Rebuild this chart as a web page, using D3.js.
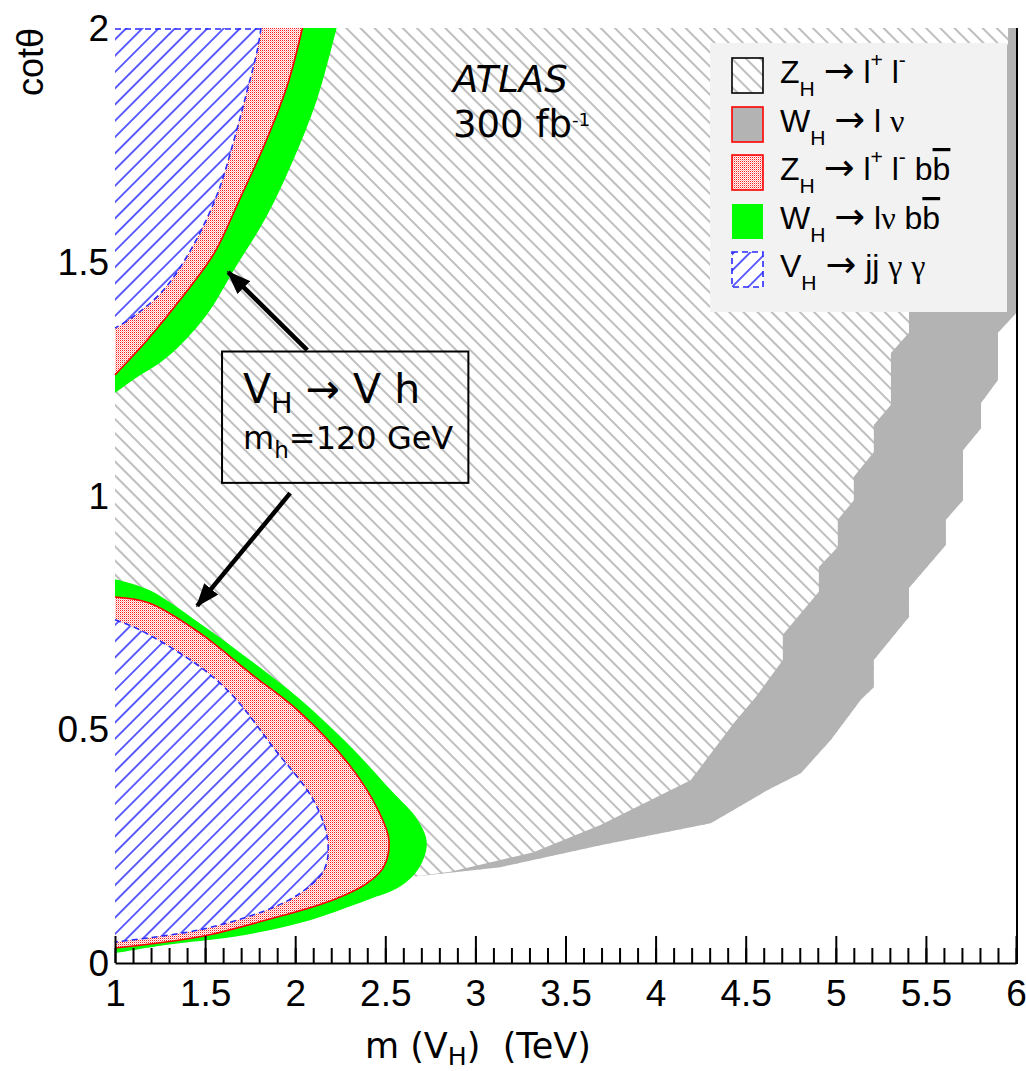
<!DOCTYPE html>
<html>
<head>
<meta charset="utf-8">
<script src="https://cdn.jsdelivr.net/npm/d3@7"></script>
<style>
  body { margin: 0; background: #fff; }
  svg { display: block; }
  text { white-space: pre; }
</style>
</head>
<body>
<div id="chart"></div>
<script>
// axis ticks
const xMajor = [1, 1.5, 2, 2.5, 3, 3.5, 4, 4.5, 5, 5.5, 6];
const xMinor = d3.range(10, 61).map(d => d / 10);
const yTicks = [0, 0.5, 1, 1.5, 2];

// W_H -> l nu  (grey band), edges as [m(TeV), cot theta]
const wlnuUpperEdge = [
  [2.639, 0.184], [2.861, 0.195], [3.322, 0.237], [3.694, 0.295], [4.194, 0.391],
  [4.267, 0.428], [4.433, 0.513], [4.556, 0.569], [4.706, 0.648], [4.706, 0.702],
  [4.906, 0.794], [4.906, 0.847], [5.011, 0.890], [5.011, 0.948], [5.100, 0.990],
  [5.100, 1.040], [5.211, 1.093], [5.211, 1.151], [5.306, 1.194], [5.306, 1.305],
  [5.406, 1.348], [5.406, 1.418], [5.956, 1.968], [5.956, 2.0]
];
const wlnuLowerEdge = [
  [6.0, 2.0], [6.0, 1.390], [5.900, 1.348], [5.900, 1.247], [5.806, 1.198],
  [5.806, 1.144], [5.706, 1.097], [5.706, 0.990], [5.611, 0.948], [5.611, 0.894],
  [5.406, 0.802], [5.406, 0.740], [5.211, 0.648], [5.211, 0.590], [5.139, 0.563],
  [4.972, 0.477], [4.806, 0.406], [4.622, 0.370], [4.306, 0.299], [3.694, 0.252],
  [3.139, 0.205], [2.639, 0.184]
];

// low cot theta lobe
const lowGreen = [
  [1.0, 0.821], [1.19, 0.798], [1.47, 0.727], [1.77, 0.642], [2.03, 0.563],
  [2.31, 0.462], [2.53, 0.370], [2.68, 0.306], [2.73, 0.257], [2.69, 0.205],
  [2.58, 0.163], [2.40, 0.135], [2.03, 0.086], [1.66, 0.056], [1.29, 0.039], [1.0, 0.021]
];
const lowRed = [
  [1.0, 0.783], [1.19, 0.770], [1.47, 0.706], [1.75, 0.620], [2.03, 0.535],
  [2.31, 0.419], [2.46, 0.327], [2.52, 0.263], [2.49, 0.205], [2.40, 0.171],
  [2.21, 0.135], [1.84, 0.092], [1.47, 0.056], [1.0, 0.032]
];
const lowBlue = [
  [1.0, 0.734], [1.14, 0.712], [1.47, 0.634], [1.66, 0.569], [1.88, 0.460],
  [2.10, 0.349], [2.18, 0.263], [2.16, 0.199], [2.03, 0.150], [1.84, 0.113],
  [1.47, 0.071], [1.0, 0.045]
];

// high cot theta lobe
const highGreen = [
  [2.23, 2.0], [2.12, 1.846], [1.99, 1.718], [1.84, 1.596], [1.67, 1.489],
  [1.50, 1.382], [1.29, 1.296], [1.10, 1.247], [1.0, 1.219]
];
const highRed = [
  [2.04, 2.0], [1.96, 1.882], [1.84, 1.760], [1.69, 1.632], [1.55, 1.518],
  [1.36, 1.418], [1.18, 1.333], [1.0, 1.258]
];
const highBlue = [
  [1.81, 2.0], [1.79, 1.953], [1.73, 1.861], [1.66, 1.760], [1.57, 1.647],
  [1.43, 1.532], [1.27, 1.440], [1.10, 1.382], [1.0, 1.358]
];

// annotation: box corners and arrows [from, to] in data coords
const noteBox = [[1.594, 1.308], [2.961, 1.027]];
const noteArrows = [
  [[2.067, 1.311], [1.628, 1.478]],
  [[1.972, 1.005], [1.456, 0.764]]
];

// legend
const legendKeys = ["zll", "wlnu", "zllbb", "wlnubb", "vjjgg"];
const legendLabels = [
  [["Z"], ["H", "sub"], [" "], ["\u2192", "arrow"], [" l"], ["+", "sup"], [" l"], ["-", "sup"]],
  [["W"], ["H", "sub"], [" "], ["\u2192", "arrow"], [" l "], ["\u03bd", "greek"]],
  [["Z"], ["H", "sub"], [" "], ["\u2192", "arrow"], [" l"], ["+", "sup"], [" l"], ["-", "sup"], [" b"], ["b", "bar"]],
  [["W"], ["H", "sub"], [" "], ["\u2192", "arrow"], [" l"], ["\u03bd", "greek"], [" b"], ["b", "bar"]],
  [["V"], ["H", "sub"], [" "], ["\u2192", "arrow"], [" jj "], ["\u03b3", "greek"], [" "], ["\u03b3", "greek"]]
];

const width = 1026, height = 1071;
const x = d3.scaleLinear().domain([1, 6]).range([115, 1016]);
const y = d3.scaleLinear().domain([0, 2]).range([963, 28]);

const svg = d3.select("#chart").append("svg")
  .attr("width", width)
  .attr("height", height);

const defs = svg.append("defs");

function hatch(id, angle, size, color, w) {
  const p = defs.append("pattern")
    .attr("id", id)
    .attr("patternUnits", "userSpaceOnUse")
    .attr("width", size).attr("height", size)
    .attr("patternTransform", `rotate(${angle})`);
  p.append("rect").attr("width", size).attr("height", size).attr("fill", "#fff");
  p.append("line")
    .attr("x1", size / 2).attr("x2", size / 2)
    .attr("y1", -1).attr("y2", size + 1)
    .attr("stroke", color).attr("stroke-width", w);
}
hatch("hatchGrey", -45, 10, "#9c9c9c", 1.3);
hatch("hatchBlue", 45, 11.5, "#2a2aff", 1.5);

// red dotted fill
const dots = defs.append("pattern")
  .attr("id", "dotsRed")
  .attr("patternUnits", "userSpaceOnUse")
  .attr("width", 2).attr("height", 2);
dots.append("rect").attr("width", 2).attr("height", 2).attr("fill", "#fff");
dots.append("rect").attr("width", 1).attr("height", 1).attr("fill", "#ff1818");
dots.append("rect").attr("x", 1).attr("y", 1).attr("width", 1).attr("height", 1).attr("fill", "#ffb0b0");

defs.append("marker")
  .attr("id", "head")
  .attr("markerUnits", "userSpaceOnUse")
  .attr("viewBox", "0 0 24 18")
  .attr("refX", 22).attr("refY", 9)
  .attr("markerWidth", 24).attr("markerHeight", 18)
  .attr("orient", "auto")
  .append("path")
  .attr("d", "M0,0 L24,9 L0,18 Z")
  .attr("fill", "#000");

const pt = d => [x(d[0]), y(d[1])];
const lin = d3.line().x(d => x(d[0])).y(d => y(d[1]));
const smooth = d3.line().x(d => x(d[0])).y(d => y(d[1])).curve(d3.curveCatmullRom.alpha(0.5));

const plot = svg.append("g");

// Z_H -> l+l- hatched exclusion: the whole frame first
plot.append("rect")
  .attr("x", x(1)).attr("y", y(2))
  .attr("width", x(6) - x(1)).attr("height", y(0) - y(2))
  .attr("fill", "url(#hatchGrey)");

// not-excluded corner (white)
const tip = d3.maxIndex(lowGreen, d => d[0]);
const whiteArea = [[1, 0]]
  .concat(lowGreen.slice(tip + 1).reverse())
  .concat(wlnuLowerEdge.slice().reverse())
  .concat([[6, 0]]);
plot.append("path").attr("d", lin(whiteArea) + "Z").attr("fill", "#fff");

// grey W_H -> l nu band
plot.append("path")
  .attr("d", lin(wlnuUpperEdge.concat(wlnuLowerEdge)) + "Z")
  .attr("fill", "#b3b3b3");

function lobe(points, closeTo, fill, stroke, dash) {
  const close = closeTo.map(d => "L" + pt(d).join(",")).join("") + "Z";
  plot.append("path").attr("d", smooth(points) + close).attr("fill", fill);
  if (stroke) {
    plot.append("path")
      .attr("d", smooth(points))
      .attr("fill", "none")
      .attr("stroke", stroke)
      .attr("stroke-width", 1.6)
      .attr("stroke-dasharray", dash || null);
  }
}

lobe(lowGreen, [], "#00ff00");
lobe(lowRed, [], "url(#dotsRed)", "#ff0000");
lobe(lowBlue, [], "url(#hatchBlue)", "#2a2aff", "6,4");

lobe(highGreen, [[1, 2]], "#00ff00");
lobe(highRed, [[1, 2]], "url(#dotsRed)", "#ff0000");
lobe(highBlue, [[1, 2]], "url(#hatchBlue)", "#2a2aff", "6,4");
plot.append("line")
  .attr("x1", x(1)).attr("x2", x(highBlue[0][0]))
  .attr("y1", y(2) + 1).attr("y2", y(2) + 1)
  .attr("stroke", "#2a2aff").attr("stroke-width", 1.6).attr("stroke-dasharray", "6,4");

// frame and axes
const axisG = svg.append("g").attr("transform", `translate(0,${y(0)})`);
axisG.call(d3.axisBottom(x).tickValues(xMinor).tickSize(-15).tickSizeOuter(0).tickFormat(""))
  .call(g => g.selectAll("line").attr("stroke-width", 2))
  .call(g => g.select(".domain").attr("stroke-width", 2));
const majorG = svg.append("g").attr("transform", `translate(0,${y(0)})`);
majorG.call(d3.axisBottom(x).tickValues(xMajor).tickSize(-27).tickSizeOuter(0).tickPadding(16)
    .tickFormat(d3.format("")))
  .call(g => g.select(".domain").remove())
  .call(g => g.selectAll("line").attr("stroke-width", 2))
  .call(g => g.selectAll("text")
    .attr("y", 43).attr("dy", null)
    .attr("font-family", "Liberation Sans, Arial, sans-serif")
    .attr("font-size", 37).attr("fill", "#000"));

const yG = svg.append("g").attr("transform", `translate(${x(1)},0)`);
yG.call(d3.axisLeft(y).tickValues(yTicks).tickSize(0).tickPadding(6).tickFormat(d3.format("")))
  .call(g => g.select(".domain").remove())
  .call(g => g.selectAll("text")
    .attr("dy", "0.34em")
    .attr("font-family", "Liberation Sans, Arial, sans-serif")
    .attr("font-size", 37).attr("fill", "#000"));

svg.append("line")
  .attr("x1", x(6) + 1).attr("x2", x(6) + 1)
  .attr("y1", y(2)).attr("y2", y(0) + 1)
  .attr("stroke", "#000").attr("stroke-width", 2);

function rich(parent, segs, size, family, opt) {
  opt = opt || {};
  const t = parent.append("text")
    .attr("font-size", size)
    .attr("font-family", family)
    .attr("fill", "#000");
  let cur = 0;
  segs.forEach(([s, kind]) => {
    const off = kind === "sub" ? (opt.sub || 0.3) * size
      : kind === "sup" ? -(opt.sup || 0.4) * size : 0;
    const ts = t.append("tspan").attr("dy", off - cur).text(s);
    cur = off;
    if (kind === "sub" || kind === "sup") ts.attr("font-size", (opt.small || 0.66) * size);
    if (kind === "greek") ts.attr("font-family", "Liberation Serif, serif");
    if (kind === "arrow") ts.attr("font-family", "DejaVu Sans, sans-serif").attr("font-size", size * 1.15);
    if (kind === "bar") ts.style("text-decoration", "overline");
  });
  return t;
}

// axis titles
const comic = "DejaVu Sans, sans-serif";
rich(svg, [["m (V"], ["H", "sub"], [")  (TeV)"]], 35, comic, { sub: 0.2, small: 0.72 })
  .attr("x", 365).attr("y", 1058);
svg.append("text")
  .attr("transform", "translate(43,62) rotate(-90)")
  .attr("text-anchor", "middle")
  .attr("font-family", "Liberation Sans, Arial, sans-serif")
  .attr("font-size", 36)
  .text("cot\u03b8");

// ATLAS label
svg.append("text")
  .attr("x", 453).attr("y", 92)
  .attr("font-family", comic).attr("font-style", "italic")
  .attr("font-size", 37)
  .text("ATLAS");
rich(svg, [["300 fb"], ["-1", "sup"]], 37, comic, { sup: 0.3, small: 0.5 })
  .attr("x", 453).attr("y", 137);

// annotation box and arrows
const b0 = pt(noteBox[0]), b1 = pt(noteBox[1]);
svg.append("rect")
  .attr("x", b0[0]).attr("y", b0[1])
  .attr("width", b1[0] - b0[0]).attr("height", b1[1] - b0[1])
  .attr("fill", "none").attr("stroke", "#000").attr("stroke-width", 2);
rich(svg, [["V"], ["H", "sub"], [" \u2192 V h"]], 41, comic, { sub: 0.25, small: 0.7 })
  .attr("x", b0[0] + 21).attr("y", b0[1] + 51);
rich(svg, [["m"], ["h", "sub"], ["=120 GeV"]], 32, comic, { sub: 0.3, small: 0.72 })
  .attr("x", b0[0] + 21).attr("y", b0[1] + 97);

svg.append("g").selectAll("line")
  .data(noteArrows)
  .join("line")
  .attr("x1", d => x(d[0][0])).attr("y1", d => y(d[0][1]))
  .attr("x2", d => x(d[1][0])).attr("y2", d => y(d[1][1]))
  .attr("stroke", "#000").attr("stroke-width", 4.5)
  .attr("marker-end", "url(#head)");

// legend
const leg = svg.append("g").attr("transform", "translate(710,43)");
leg.append("rect").attr("width", 297).attr("height", 269).attr("fill", "#f2f2f2");
const swatch = {
  zll: { fill: "url(#hatchGrey)", stroke: "#000" },
  wlnu: { fill: "#b3b3b3", stroke: "#ff0000" },
  zllbb: { fill: "url(#dotsRed)", stroke: "#ff0000" },
  wlnubb: { fill: "#00ff00", stroke: "none" },
  vjjgg: { fill: "url(#hatchBlue)", stroke: "#2a2aff", dash: "6,4" }
};
const rows = leg.selectAll("g.row")
  .data(legendKeys)
  .join("g")
  .attr("class", "row")
  .attr("transform", (d, i) => `translate(0,${Math.round(15 + i * 48.5)})`);
rows.append("rect")
  .attr("x", 22).attr("y", 0)
  .attr("width", 31).attr("height", 35)
  .attr("fill", d => swatch[d].fill)
  .attr("stroke", d => swatch[d].stroke)
  .attr("stroke-width", 1.6)
  .attr("stroke-dasharray", d => swatch[d].dash || null);
rows.each(function (d, i) {
  rich(d3.select(this), legendLabels[i], 32, "Liberation Sans, Arial, sans-serif", { sub: 0.42, sup: 0.5, small: 0.66 })
    .attr("x", 70).attr("y", 25);
});
</script>
</body>
</html>
